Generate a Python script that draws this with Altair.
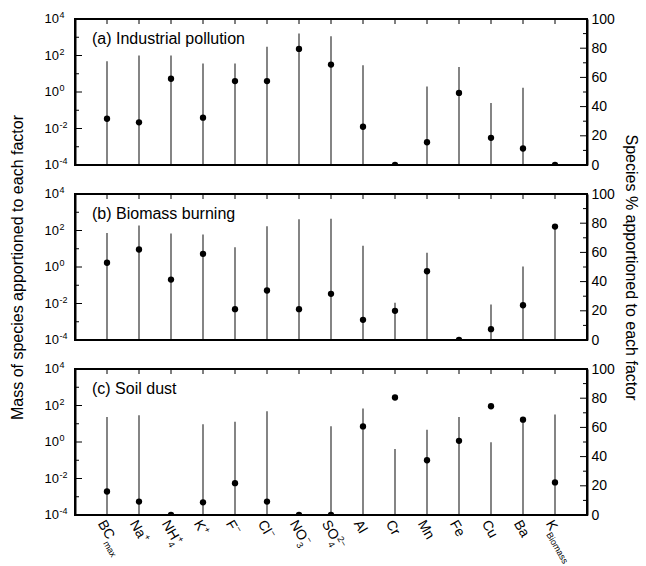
import altair as alt
import pandas as pd

# ---------------- data ----------------
species = ["BCmax", "Na+", "NH4+", "K+", "F-", "Cl-", "NO3-", "SO42-", "Al",
           "Cr", "Mn", "Fe", "Cu", "Ba", "KBiomass"]
label_main = ["BC", "Na", "NH", "K", "F", "Cl", "NO", "SO", "Al", "Cr", "Mn",
              "Fe", "Cu", "Ba", "K"]
label_sub = ["max", "", "4", "", "", "", "3", "4", "", "", "", "", "", "", "Biomass"]
label_sup = ["", "+", "+", "+", "−", "−", "−", "2−", "", "", "", "", "", "", ""]

panel_titles = ["(a) Industrial pollution", "(b) Biomass burning", "(c) Soil dust"]

# mass of species (log axis, vertical lines); None = no line
mass_a = [48, 100, 100, 36, 36, 297, 1630, 1150, 29, None, 2.0, 23.4, 0.25, 1.7, None]
mass_b = [74, 187, 69, 60, 12.2, 172, 415, 437, 14.5, 0.011, 6.0, None, 0.0089, 1.07, 166]
mass_c = [23.4, 29, None, 9.3, 13, 48, None, 7.2, 68, 0.42, 4.7, 23.4, 0.98, 19, 32]

# species % apportioned (right axis, dots)
pct_a = [31.7, 29.2, 59.1, 32.4, 57.5, 57.5, 79.5, 68.8, 26.2, 0, 15.6, 49.4, 18.6, 11.3, 0]
pct_b = [52.9, 62.0, 41.4, 59.0, 21.1, 33.9, 21.1, 31.6, 13.8, 20.0, 47.1, 0, 7.4, 23.8, 77.7]
pct_c = [16.1, 9.2, 0, 8.7, 21.8, 9.2, 0, 0, 60.7, 80.5, 37.5, 50.8, 74.5, 65.3, 22.3]

log_major = [1e-4, 1e-2, 1, 1e2, 1e4]
log_major_exp = ["-4", "-2", "0", "2", "4"]
log_minor = [1e-3, 1e-1, 10, 1e3]
pct_major = [0, 20, 40, 60, 80, 100]
pct_minor = [10, 30, 50, 70, 90]

# ---------------- styling ----------------
W, H = 512, 146
FONT = "Liberation Sans"
LAB_SIZE = 14
SUB_SIZE = 9
LOG_LO, LOG_HI = 1e-4, 1e4
FRAME_W = 2

# Arial/Liberation Sans advance widths (per 1000 em)
AW = {"B": 667, "C": 722, "N": 722, "H": 722, "K": 667, "F": 611, "O": 778,
      "S": 667, "A": 667, "M": 833, "a": 556, "l": 222, "r": 333, "n": 556,
      "e": 556, "u": 556}


def text_width(s, size):
    return sum(AW.get(c, 556) for c in s) / 1000.0 * size


x_enc = alt.X("species:N", scale=alt.Scale(type="point", domain=species, padding=1),
              axis=None)
log_scale = alt.Scale(type="log", domain=[LOG_LO, LOG_HI], nice=False)
pct_scale = alt.Scale(domain=[0, 100], nice=False)


def panel(idx, mass, pct, show_titles, show_xlabels):
    if show_titles:
        left_axis = alt.Axis(title="Mass of species apportioned to each factor",
                             labels=False, ticks=False, domain=True, grid=False,
                             domainColor="black", domainWidth=FRAME_W,
                             titleFont=FONT, titleFontSize=16, titleFontWeight="normal",
                             titleColor="black", titlePadding=50)
        rtitle = "Species % apportioned to each factor"
    else:
        left_axis = alt.Axis(title=None, labels=False, ticks=False, domain=True,
                             grid=False, domainColor="black", domainWidth=FRAME_W)
        rtitle = None
    right_axis = alt.Axis(orient="right", values=pct_major, ticks=False, domain=True,
                          domainColor="black", domainWidth=FRAME_W,
                          grid=False, labelFont=FONT, labelFontSize=14,
                          labelColor="black", labelPadding=4, title=rtitle,
                          titleFont=FONT, titleFontSize=16, titleFontWeight="normal",
                          titleColor="black", titlePadding=8)
    ly = lambda f: alt.Y(f, scale=log_scale, axis=left_axis)
    py = lambda f: alt.Y(f, scale=pct_scale, axis=right_axis)

    df = pd.DataFrame({"species": species, "mass": mass, "pct": pct})
    df_mass = df.dropna(subset=["mass"])

    st = dict(color="black", strokeWidth=FRAME_W)
    hframe = alt.Chart(pd.DataFrame({"v": [LOG_LO, LOG_HI]})).mark_rule(**st).encode(
        y=ly("v:Q"), x=alt.value(0), x2=alt.value(W))
    vdf = pd.DataFrame({"lo": [LOG_LO], "hi": [LOG_HI]})
    lframe = alt.Chart(vdf).mark_rule(**st).encode(
        y=ly("hi:Q"), y2="lo:Q", x=alt.value(0))
    rframe = alt.Chart(vdf).mark_rule(**st).encode(
        y=ly("hi:Q"), y2="lo:Q", x=alt.value(W))

    rules = alt.Chart(df_mass).mark_rule(color="#333333", strokeWidth=1.2).encode(
        x=x_enc, y=ly("mass:Q"), y2=alt.value(H))
    lmaj = alt.Chart(pd.DataFrame({"v": log_major})).mark_rule(
        color="black", strokeWidth=1).encode(
        y=ly("v:Q"), x=alt.value(0), x2=alt.value(7))
    lmin = alt.Chart(pd.DataFrame({"v": log_minor})).mark_rule(
        color="black", strokeWidth=1).encode(
        y=ly("v:Q"), x=alt.value(0), x2=alt.value(4))
    ldf = pd.DataFrame({"v": log_major, "exp": log_major_exp})
    l10 = alt.Chart(ldf).mark_text(align="right", baseline="middle", font=FONT,
                                   fontSize=13, color="black").encode(
        y=ly("v:Q"), x=alt.value(-16), text=alt.value("10"))
    lexp = alt.Chart(ldf).mark_text(align="left", baseline="middle", font=FONT,
                                    fontSize=9, dy=-4, color="black").encode(
        y=ly("v:Q"), x=alt.value(-15.5), text="exp:N")
    tdf = pd.DataFrame({"species": species, "top": [LOG_HI] * len(species)})
    topticks = alt.Chart(tdf).mark_rule(color="black", strokeWidth=1).encode(
        x=x_enc, y=ly("top:Q"), y2=alt.value(5))
    ttl = alt.Chart(pd.DataFrame({"t": [panel_titles[idx]]})).mark_text(
        align="left", baseline="middle", font=FONT, fontSize=16, color="black").encode(
        x=alt.value(17), y=alt.value(20), text="t:N")

    left_layers = [rules, lmaj, lmin, l10, lexp, topticks, ttl, hframe, lframe, rframe]

    if show_xlabels:
        lab = pd.DataFrame({"species": species, "main": label_main,
                            "sub": label_sub, "sup": label_sup})
        lab["dxs"] = [text_width(m, LAB_SIZE) + 0.5 for m in label_main]
        main_t = alt.Chart(lab).mark_text(
            angle=60, align="left", baseline="top", font=FONT, fontSize=LAB_SIZE,
            color="black").encode(x=x_enc, y=alt.value(H + 3), text="main:N")
        sub_t = alt.Chart(lab[lab["sub"] != ""]).mark_text(
            angle=60, align="left", baseline="top", font=FONT, fontSize=SUB_SIZE,
            dx=alt.ExprRef(expr="datum.dxs"), dy=9, color="black").encode(
            x=x_enc, y=alt.value(H + 3), text="sub:N")
        sup_t = alt.Chart(lab[lab["sup"] != ""]).mark_text(
            angle=60, align="left", baseline="top", font=FONT, fontSize=SUB_SIZE,
            dx=alt.ExprRef(expr="datum.dxs"), dy=-2, color="black").encode(
            x=x_enc, y=alt.value(H + 3), text="sup:N")
        left_layers += [main_t, sub_t, sup_t]

    left = alt.layer(*left_layers)

    dots = alt.Chart(df).mark_circle(size=40, color="black", opacity=1,
                                     clip=True).encode(x=x_enc, y=py("pct:Q"))
    rmaj = alt.Chart(pd.DataFrame({"v": pct_major})).mark_rule(
        color="black", strokeWidth=1).encode(
        y=py("v:Q"), x=alt.value(W - 7), x2=alt.value(W))
    rmin = alt.Chart(pd.DataFrame({"v": pct_minor})).mark_rule(
        color="black", strokeWidth=1).encode(
        y=py("v:Q"), x=alt.value(W - 4), x2=alt.value(W))
    right = alt.layer(dots, rmaj, rmin)

    return alt.layer(left, right).resolve_scale(y="independent").properties(
        width=W, height=H)


pa = panel(0, mass_a, pct_a, False, False)
pb = panel(1, mass_b, pct_b, True, False)
pc = panel(2, mass_c, pct_c, False, True)

chart = alt.vconcat(pa, pb, pc, spacing=29, bounds="flush").properties(
    padding={"left": 8, "top": 10, "right": 3, "bottom": 0}
).configure(font=FONT).configure_view(stroke="black", strokeWidth=FRAME_W)

chart.save("out.html", embed_options={"renderer": "svg", "actions": False})
